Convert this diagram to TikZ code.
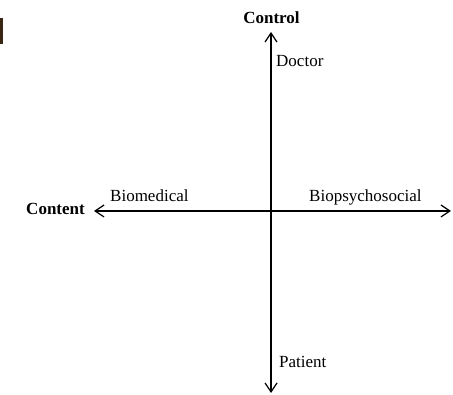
\documentclass[tikz,border=0pt]{standalone}
\usepackage{fontspec}
\setmainfont{Liberation Serif}
\usetikzlibrary{arrows.meta}
\usetikzlibrary{positioning}

\tikzset{
  axis/.style={line width=1.2pt, -{Straight Barb[length=9pt,width=12pt,line width=1.2pt]}},
  lbl/.style={inner sep=0pt, font=\fontsize{17}{20}\selectfont},
  axlbl/.style={lbl, font=\fontsize{17}{20}\selectfont\bfseries}
}

\begin{document}
\begin{tikzpicture}[line cap=round,line join=round,x=1pt,y=-1pt]
\useasboundingbox (0,0) rectangle (453,395);
% left-edge fragment
\fill [black!70!brown] (0,18) rectangle (3,44);
% axes
\coordinate (o) at (271,211);
\coordinate (top) at (271,32);
\coordinate (bot) at (271,393);
\coordinate (lft) at (94,211);
\coordinate (rgt) at (451,211);
\draw [axis] (o) -- (top);
\draw [axis] (o) -- (bot);
\draw [axis] (o) -- (lft);
\draw [axis] (o) -- (rgt);
% labels
\node [axlbl, anchor=base] (control) at (271.5,24) {Control};
\node [axlbl, anchor=base east] (content) at (85,215) {Content};
\node [lbl, anchor=base west] (doctor) at (276,67) {Doctor};
\node [lbl, anchor=base west] (patient) at (279,368) {Patient};
\node [lbl, anchor=base west] (biomed) at (110,202) {Biomedical};
\node [lbl, anchor=base west] (biopsy) at (309,202) {Biopsychosocial};
\end{tikzpicture}
\end{document}
